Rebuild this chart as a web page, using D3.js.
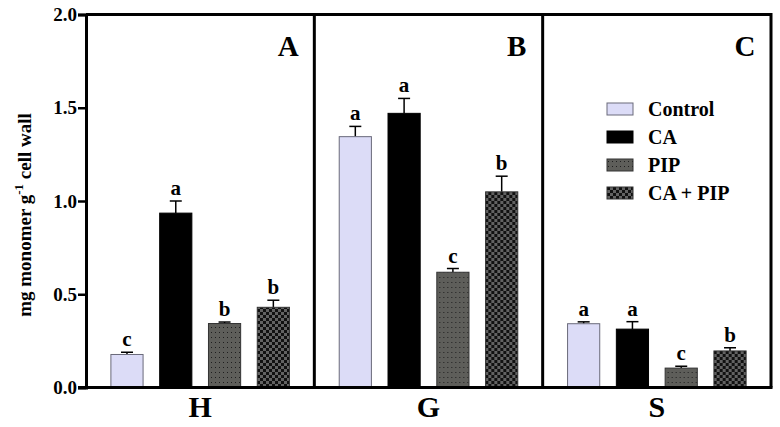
<!DOCTYPE html>
<html>
<head>
<meta charset="utf-8">
<script src="https://cdn.jsdelivr.net/npm/d3@7"></script>
<style>
  body { margin: 0; background: #fff; }
  svg text { font-family: "Liberation Serif", "Times New Roman", serif; font-weight: bold; }
</style>
</head>
<body>
<script>
// chart data
const groups = ["H", "G", "S"];
const panelLabels = ["A", "B", "C"];
const series = ["Control", "CA", "PIP", "CA + PIP"];
const means = {
  H: [0.177, 0.935, 0.343, 0.430],
  G: [1.345, 1.470, 0.618, 1.049],
  S: [0.342, 0.313, 0.104, 0.196]
};
const errors = {
  H: [0.012, 0.065, 0.008, 0.038],
  G: [0.055, 0.080, 0.020, 0.084],
  S: [0.010, 0.040, 0.010, 0.017]
};
const letters = {
  H: ["c", "a", "b", "b"],
  G: ["a", "a", "c", "b"],
  S: ["a", "a", "c", "b"]
};
const yTicks = [0, 0.5, 1.0, 1.5, 2.0];

const width = 780, height = 427;
const margin = { top: 14.5, right: 9, bottom: 39.5, left: 86 };

const svg = d3.select("body").append("svg")
  .attr("width", width)
  .attr("height", height);

// patterns for PIP (dotted gray) and CA + PIP (checker)
const defs = svg.append("defs");
const dots = defs.append("pattern")
  .attr("id", "dots").attr("patternUnits", "userSpaceOnUse")
  .attr("width", 4).attr("height", 5);
dots.append("rect").attr("width", 4).attr("height", 5).attr("fill", "#5e5e5a");
dots.append("rect").attr("x", 1).attr("y", 2).attr("width", 1).attr("height", 1).attr("fill", "#1e1e1e");

const checker = defs.append("pattern")
  .attr("id", "checker").attr("patternUnits", "userSpaceOnUse")
  .attr("width", 6).attr("height", 6);
checker.append("rect").attr("width", 6).attr("height", 6).attr("fill", "#626262");
checker.append("rect").attr("width", 3).attr("height", 3).attr("fill", "#111");
checker.append("rect").attr("x", 3).attr("y", 3).attr("width", 3).attr("height", 3).attr("fill", "#111");

const fills = ["#dcdcf7", "#000", "url(#dots)", "url(#checker)"];
const strokes = ["#6a6a7a", "#000", "#333", "#333"];

const x0 = d3.scaleBand()
  .domain(groups)
  .range([margin.left, width - margin.right])
  .padding(0);

const x1 = d3.scaleBand()
  .domain(series)
  .range([0, x0.bandwidth()])
  .paddingInner(0.32)
  .paddingOuter(0.5);

const y = d3.scaleLinear()
  .domain([0, 2])
  .range([height - margin.bottom, margin.top]);

// bars
const panel = svg.selectAll("g.panel")
  .data(groups)
  .enter()
  .append("g")
  .attr("class", "panel")
  .attr("transform", g => `translate(${x0(g)},0)`);

panel.each(function (g) {
  const sel = d3.select(this);
  const rows = series.map((s, i) => ({ s, i, v: means[g][i], e: errors[g][i], l: letters[g][i] }));

  // error bars (upper only)
  sel.selectAll("line.err")
    .data(rows).enter().append("line")
    .attr("x1", d => x1(d.s) + x1.bandwidth() / 2)
    .attr("x2", d => x1(d.s) + x1.bandwidth() / 2)
    .attr("y1", d => y(d.v))
    .attr("y2", d => y(d.v + d.e))
    .attr("stroke", "#000").attr("stroke-width", 1.5);
  sel.selectAll("line.cap")
    .data(rows).enter().append("line")
    .attr("x1", d => x1(d.s) + x1.bandwidth() / 2 - 6)
    .attr("x2", d => x1(d.s) + x1.bandwidth() / 2 + 6)
    .attr("y1", d => y(d.v + d.e))
    .attr("y2", d => y(d.v + d.e))
    .attr("stroke", "#000").attr("stroke-width", 1.5);

  sel.selectAll("rect.bar")
    .data(rows).enter().append("rect")
    .attr("class", "bar")
    .attr("x", d => x1(d.s) + 0.5)
    .attr("y", d => y(d.v))
    .attr("width", x1.bandwidth() - 1)
    .attr("height", d => y(0) - y(d.v))
    .attr("fill", d => fills[d.i])
    .attr("stroke", d => strokes[d.i])
    .attr("stroke-width", 1);

  sel.selectAll("text.sig")
    .data(rows).enter().append("text")
    .attr("x", d => x1(d.s) + x1.bandwidth() / 2)
    .attr("y", d => y(d.v + d.e) - 6)
    .attr("text-anchor", "middle")
    .style("font-size", "21px")
    .text(d => d.l);
});

// panel letters
svg.selectAll("text.plabel")
  .data(groups).enter().append("text")
  .attr("x", (g, i) => x0(g) + x0.bandwidth() - 26)
  .attr("y", 56)
  .attr("text-anchor", "middle")
  .style("font-size", "29px")
  .text((g, i) => panelLabels[i]);

// frame and dividers
const frame = svg.append("g").attr("stroke", "#000").attr("stroke-width", 3).attr("fill", "none");
frame.append("path")
  .attr("d", `M${margin.left},${y(2)}H${width - margin.right}V${y(0)}`);
groups.slice(1).forEach(g => {
  frame.append("line")
    .attr("x1", x0(g)).attr("x2", x0(g))
    .attr("y1", y(2)).attr("y2", y(0));
});

// y axis
const yAxis = svg.append("g")
  .attr("transform", `translate(${margin.left},0)`)
  .call(d3.axisLeft(y).tickValues(yTicks).tickFormat(d3.format(".1f")).tickSize(8).tickPadding(1));
yAxis.select(".domain").attr("stroke-width", 3);
yAxis.selectAll(".tick line").attr("stroke-width", 2.5);
yAxis.selectAll(".tick text").style("font-size", "19px").attr("font-family", null);

// x axis
const xAxis = svg.append("g")
  .attr("transform", `translate(0,${y(0)})`)
  .call(d3.axisBottom(x0).tickSize(0).tickPadding(8).tickSizeOuter(0));
xAxis.select(".domain").attr("stroke-width", 3).attr("d", `M${margin.left - 8},0H${width - margin.right + 1.5}`);
xAxis.selectAll(".tick text").style("font-size", "30px").attr("font-family", null);

// y title
const yTitle = svg.append("text")
  .attr("transform", "translate(31,215) rotate(-90)")
  .attr("text-anchor", "middle")
  .style("font-size", "19px");
yTitle.append("tspan").text("mg monomer g");
yTitle.append("tspan").attr("dy", -8).style("font-size", "13px").text("-1");
yTitle.append("tspan").attr("dy", 8).text(" cell wall");

// legend
const legend = svg.append("g").attr("transform", "translate(607,103)");
const item = legend.selectAll("g")
  .data(series).enter().append("g")
  .attr("transform", (d, i) => `translate(0,${i * 28})`);
item.append("rect")
  .attr("width", 26).attr("height", 12)
  .attr("fill", (d, i) => fills[i])
  .attr("stroke", (d, i) => strokes[i]);
item.append("text")
  .attr("x", 41).attr("y", 13)
  .style("font-size", "20px")
  .text(d => d);
</script>
</body>
</html>
